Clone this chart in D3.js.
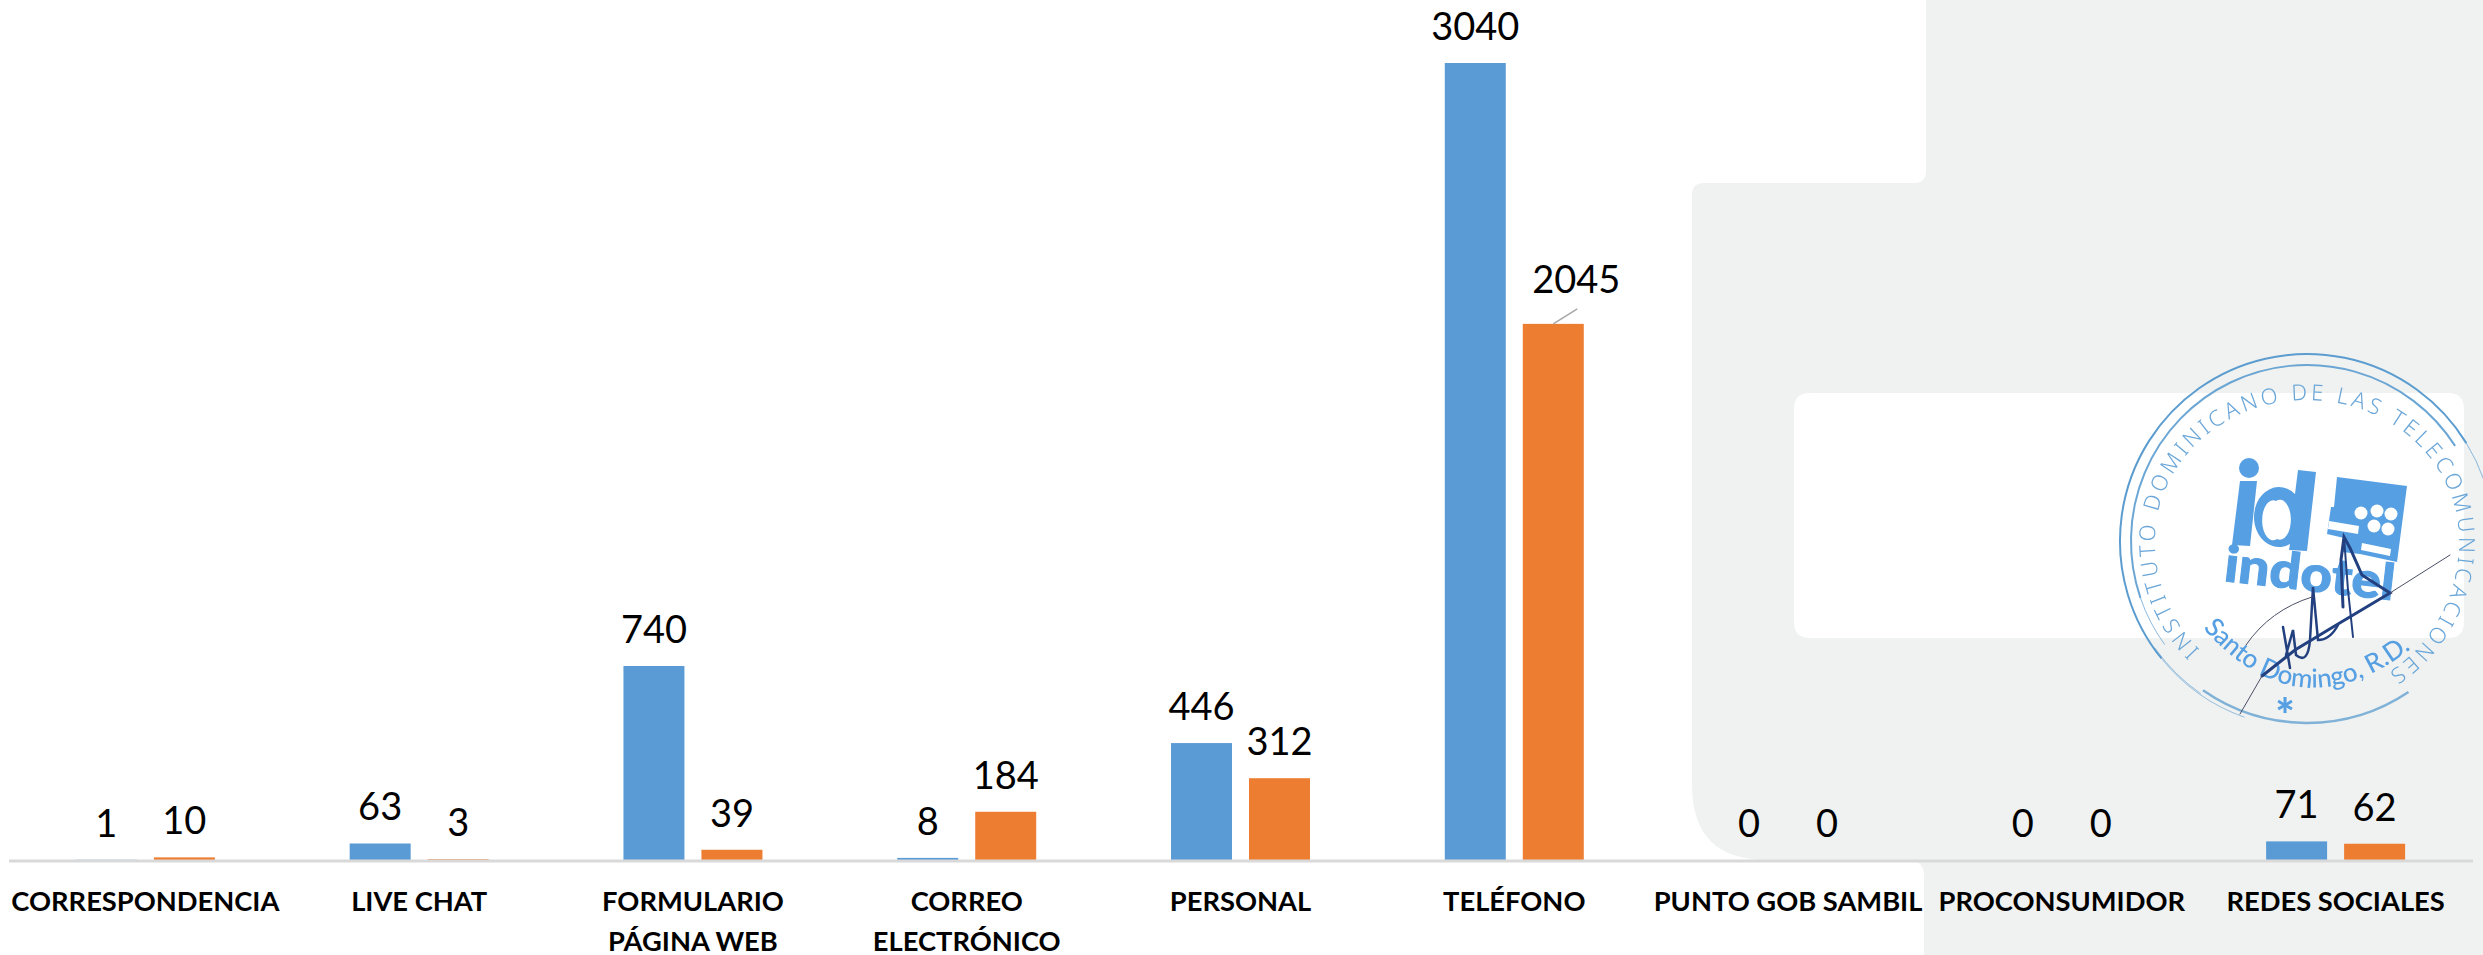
<!DOCTYPE html>
<html><head><meta charset="utf-8">
<script src="https://cdn.jsdelivr.net/npm/d3@7"></script>
<style>
html,body{margin:0;padding:0;background:#fff;overflow:hidden}
svg{display:block}
</style></head><body>
<svg id="c" width="2483" height="955"></svg>
<script>
const categories = ["CORRESPONDENCIA","LIVE CHAT","FORMULARIO PÁGINA WEB","CORREO ELECTRÓNICO","PERSONAL","TELÉFONO","PUNTO GOB SAMBIL","PROCONSUMIDOR","REDES SOCIALES"];
const seriesNames = ["Serie 1","Serie 2"];
const serie1 = [1,63,740,8,446,3040,0,0,71];
const serie2 = [10,3,39,184,312,2045,0,0,62];

const W=2483,H=955,base=860.5;
const svg=d3.select("#c");
const defs=svg.append("defs");
defs.append("filter").attr("id","soft").append("feGaussianBlur").attr("stdDeviation",0.6);
const ringP=defs.append("path").attr("id","ringPath").attr("d","M2200,650 A150,152 0 0 1 2155,540 A152,140 0 0 1 2459,540 A152,155 0 0 1 2386,674");
const cityP=defs.append("path").attr("id","cityPath").attr("d","M2203,628 Q2300,738 2416,645");

// page background shapes
svg.append("path").attr("fill","#f0f2f1").attr("fill-rule","evenodd").attr("d",
 "M1926,0 V171 Q1926,183 1914,183 H1704 Q1692,183 1692,195 V785 Q1692,860 1767,860 H1908 Q1924,860 1924,876 V955 H2483 V0 Z "+
 "M1810,393 H2448 Q2464,393 2464,409 V622 Q2464,638 2448,638 H1810 Q1794,638 1794,622 V409 Q1794,393 1810,393 Z");

const x0=d3.scaleBand().domain(categories).range([8.5,2472.5]);
const x1=d3.scaleBand().domain(seriesNames).range([-69.5,69.5]).paddingInner(0.218);
const y=d3.scaleLinear().domain([0,3040]).range([860,63]);
const color=d3.scaleOrdinal().domain(seriesNames).range(["#5b9bd5","#ed7d31"]);

const rows=[];
categories.forEach((c,i)=>{rows.push({c,s:seriesNames[0],v:serie1[i]});rows.push({c,s:seriesNames[1],v:serie2[i]});});
const cx=d=>x0(d.c)+x0.bandwidth()/2+x1(d.s)+x1.bandwidth()/2;

svg.append("g").selectAll("rect").data(rows).join("rect")
 .attr("x",d=>x0(d.c)+x0.bandwidth()/2+x1(d.s))
 .attr("y",d=>y(d.v)).attr("width",x1.bandwidth())
 .attr("height",d=>y(0)-y(d.v)).attr("fill",d=>color(d.s));

// axis
const ax=svg.append("g").attr("transform",`translate(0,${base})`).call(d3.axisBottom(x0).tickSize(0));
ax.select(".domain").attr("stroke","#d9d9d9").attr("stroke-width",3);
ax.selectAll(".tick text").each(function(d){
  const t=d3.select(this).text(null).attr("y",0).attr("dy",null)
    .attr("font-family","Lato").attr("font-weight",700).attr("font-size",27.3).attr("fill","#000").attr("text-anchor","middle");
  const words=d.split(" ");let line=[],ln=0;
  let ts=t.append("tspan").attr("x",0).attr("y",50.5);
  words.forEach(w=>{
    line.push(w);ts.text(line.join(" "));
    if(ts.node().getComputedTextLength()>285&&line.length>1){
      line.pop();ts.text(line.join(" "));line=[w];ln++;
      ts=t.append("tspan").attr("x",0).attr("y",50.5+ln*40).text(w);
    }
  });
});

// data labels
const moved=(d)=>d.v===2045;
svg.append("g").selectAll("text").data(rows).join("text")
 .attr("x",d=>cx(d)+(moved(d)?23:0))
 .attr("y",d=>y(d.v)-(moved(d)?30.5:23))
 .attr("text-anchor","middle").attr("font-family","Lato").attr("font-size",38).attr("fill","#000")
 .text(d=>d.v);
svg.append("g").selectAll("line").data(rows.filter(moved)).join("line")
 .attr("x1",d=>cx(d)).attr("y1",d=>y(d.v)).attr("x2",d=>cx(d)+24).attr("y2",d=>y(d.v)-15)
 .attr("stroke","#a6a6a6").attr("stroke-width",1.5);

// stamp
const st=svg.append("g").attr("filter","url(#soft)");
const blue="#569fe2", ring="#5b9ccf";
const arc=d3.arc();
[[187,-2.25,1.02,2,1],[187,-2.8,-2.25,1,.35],[187,1.02,1.45,1,.4],
 [176,-1.9,1.0,2,.9],[176,-2.2,-1.9,1,.4],[182,2.55,3.75,2.5,.75],[186,3.75,4.1,1,.35]].forEach(a=>{
  st.append("path").attr("transform","translate(2307,541)")
   .attr("d",arc({innerRadius:a[0],outerRadius:a[0],startAngle:a[1],endAngle:a[2]}))
   .attr("fill","none").attr("stroke",ring).attr("stroke-width",a[3]).attr("opacity",a[4]);
});
st.append("text").attr("font-family","Noto Sans").attr("font-weight",300).attr("font-size",22).attr("fill","#6aa6d8")
 .append("textPath").attr("href","#ringPath").attr("textLength",ringP.node().getTotalLength()-4).attr("lengthAdjust","spacing")
 .text("INSTITUTO DOMINICANO DE LAS TELECOMUNICACIONES");
// "id" mark
st.append("circle").attr("cx",2249).attr("cy",468).attr("r",10).attr("fill",blue);
st.append("path").attr("fill",blue).attr("d","M2240,481 H2257 L2250,546 L2232,545 Z");
st.append("path").attr("fill",blue).attr("fill-rule","evenodd").attr("d",
 "M2298,470 L2316,472 L2307,551 L2289,550 L2290,544 A25,30 0 1 1 2295,494 Z M2276,501 A11,20 0 1 0 2277,539 A11,20 0 1 0 2276,501 Z");
st.append("text").attr("x",2223).attr("y",581).attr("font-family","Lato").attr("font-weight",900).attr("font-size",50).attr("fill",blue)
 .attr("stroke",blue).attr("stroke-width",1)
 .attr("textLength",171).attr("lengthAdjust","spacingAndGlyphs").text("indotel").attr("transform","rotate(6.5 2223 581)");
st.append("path").attr("fill",blue).attr("d","M2337,477 L2407,486 L2397,562 L2360,554 L2342,552 L2344,538 L2327,534 L2331,507 L2334,507 Z");
st.append("path").attr("fill","#fff").attr("d","M2329,521 L2359,526 L2358,534 L2328,529 Z M2362,543 L2391,549 L2390,556 L2361,550 Z");
[[2377,511],[2391,514],[2374,526],[2388,529],[2361,513]].forEach(p=>st.append("circle").attr("cx",p[0]).attr("cy",p[1]).attr("r",6.5).attr("fill","#fff"));
st.append("text").attr("font-family","Lato").attr("font-weight",500).attr("font-size",26).attr("fill",blue)
 .append("textPath").attr("href","#cityPath").attr("textLength",cityP.node().getTotalLength()-6).text("Santo Domingo, R.D.");
st.append("text").attr("x",2285).attr("y",732).attr("text-anchor","middle").attr("font-family","Lato").attr("font-weight",900).attr("font-size",46).attr("fill",blue).text("*");
const sig=svg.append("g").attr("fill","none").attr("stroke","#24407f").attr("stroke-linecap","round").attr("filter","url(#soft)");
sig.append("path").attr("stroke-width",3).attr("d","M2262,676 L2295,650 L2333,627 L2390,593 L2362,575 L2350,548 L2344,537 L2341,560 L2343,607");
sig.append("path").attr("stroke-width",2).attr("d","M2344,537 L2348,590 L2353,637");
sig.append("path").attr("stroke-width",2.5).attr("d","M2283,627 L2290,668 M2286,655 L2293,630 L2296,655 Q2308,665 2310,640 L2313,587 L2318,640 Q2330,640 2338,625");
sig.append("path").attr("stroke-width",1).attr("stroke","#4a4f66").attr("d","M2246,645 Q2270,610 2312,597 M2390,593 L2450,555 M2262,676 L2240,714");
</script>
</body></html>
